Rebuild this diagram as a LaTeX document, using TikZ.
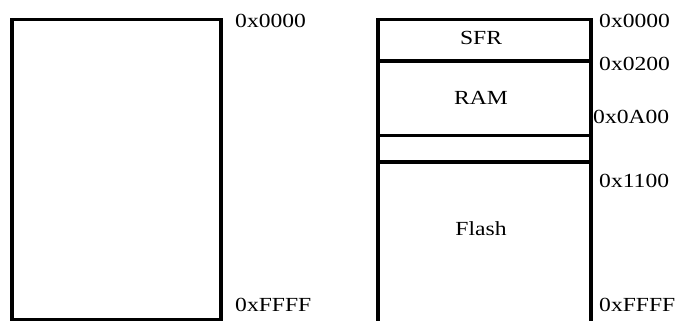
\documentclass[tikz,border=0pt]{standalone}
\usepackage{fontspec}
\setmainfont[FakeStretch=1.18]{Liberation Serif}
\begin{document}
\begin{tikzpicture}[x=1pt,y=-1pt,
  wall/.style={line width=3.2pt},
  lbl/.style={font=\fontsize{20}{22}\selectfont, inner sep=0pt},
  addr/.style={lbl, anchor=west}]
\useasboundingbox (0,0) rectangle (677,321);
% left memory block
\draw[wall] (12,19.5) rectangle (221,320);
\node[addr] (l0) at (235,21) {0x0000};
\node[addr] (lf) at (235,305) {0xFFFF};
% right memory map
\draw[wall] (378,323) -- (378,19.5) -- (591,19.5) -- (591,323);
\draw[wall] (378,61) -- (591,61);
\draw[wall] (378,135.5) -- (591,135.5);
\draw[wall] (378,162) -- (591,162);
\node[lbl] (sfr) at (481,38) {SFR};
\node[lbl] (ram) at (481,98) {RAM};
\node[lbl] (flash) at (481,229) {Flash};
\node[addr] (r0) at (599,21) {0x0000};
\node[addr] (r2) at (599,64) {0x0200};
\node[addr] (ra) at (593,117) {0x0A00};
\node[addr] (r11) at (599,181) {0x1100};
\node[addr] (rf) at (599,305) {0xFFFF};
\end{tikzpicture}
\end{document}
